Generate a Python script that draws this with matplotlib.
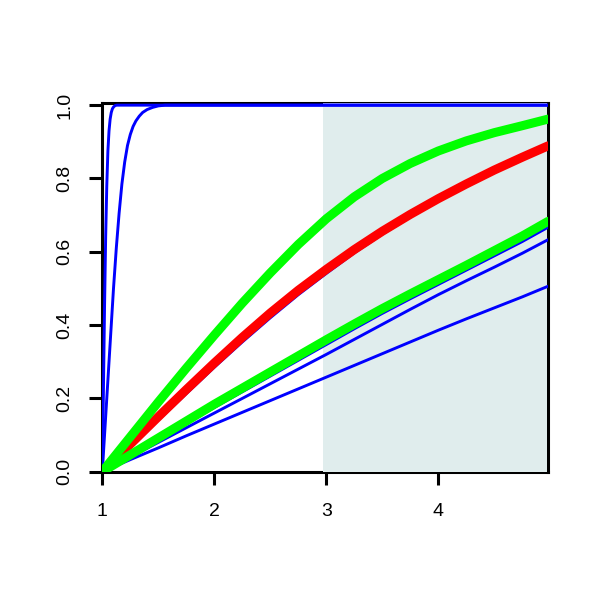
import matplotlib
matplotlib.use("Agg")
import matplotlib.pyplot as plt
from matplotlib.patches import Rectangle

# --- data ---
x_grid = [1.0, 1.25, 1.5, 1.75, 2.0, 2.25, 2.5, 2.75, 3.0, 3.25, 3.5,
          3.75, 4.0, 4.25, 4.5, 4.75, 4.98]

green_hi = [0, .095, .19, .2825, .3725, .46, .5425, .62, .69, .75, .80,
            .841, .875, .9025, .925, .944, .962]
red_mid = [0, .075, .15, .224, .2965, .3665, .433, .495, .552, .606, .656,
           .702, .745, .785, .823, .858, .889]
blue_mid = [0, .07, .141, .213, .285, .354, .42, .483, .541, .597, .648,
            .695, .739, .78, .819, .855, .886]
green_lo = [0, .046, .092, .138, .184, .228, .272, .316, .36, .403, .445,
            .485, .524, .563, .603, .643, .683]
blue_1 = [0, .044, .088, .131, .175, .218, .261, .304, .347, .39, .432,
          .472, .511, .55, .589, .628, .667]
blue_2 = [0, .04, .08, .12, .16, .2, .24, .28, .32, .361, .402,
          .443, .483, .521, .558, .596, .633]
blue_3 = [0, .033, .065, .098, .13, .162, .194, .226, .258, .29, .322,
          .354, .386, .417, .447, .477, .506]

# the two steep blue curves
steep1_x = [1.0, 1.01, 1.02, 1.03, 1.04, 1.05, 1.06, 1.07, 1.08, 1.09, 1.1,
            1.115, 1.13, 4.98]
steep1_y = [0, .22, .45, .64, .78, .875, .93, .962, .98, .99, .995,
            .999, 1.0, 1.0]
steep2_x = [1.0, 1.02, 1.04, 1.06, 1.08, 1.1, 1.125, 1.15, 1.175, 1.2, 1.225,
            1.25, 1.275, 1.3, 1.33, 1.36, 1.4, 1.45, 1.5, 1.56, 4.98]
steep2_y = [0, .1, .2, .3, .4, .5, .61, .705, .785, .845, .89,
            .92, .942, .957, .97, .98, .988, .994, .998, 1.0, 1.0]

shade_from, shade_to = 2.968, 4.968
x_ticks = [1, 2, 3, 4]
y_ticks = [0.0, 0.2, 0.4, 0.6, 0.8, 1.0]

plt.rcParams['font.family'] = ['Liberation Sans', 'DejaVu Sans']

fig = plt.figure(figsize=(6, 6), dpi=100)
ax = fig.add_axes([0.1705, 0.2138, 0.7433, 0.6152])

# shaded band sits over the box line, curves go on top
ax.add_patch(Rectangle((shade_from, 0), shade_to - shade_from, 1.006,
                       facecolor='#E0EDED', edgecolor='none', zorder=2.6))

blue_kw = dict(color='#0000FF', lw=2.1, zorder=3, solid_capstyle='round',
               solid_joinstyle='round')
for ys in (blue_mid, blue_1, blue_2, blue_3):
    ax.plot(x_grid, ys, **blue_kw)
ax.plot(steep1_x, steep1_y, **blue_kw)
ax.plot(steep2_x, steep2_y, **blue_kw)

thick_kw = dict(lw=6.5, solid_capstyle='round', solid_joinstyle='round')
ax.plot(x_grid, red_mid, color='#FF0000', zorder=4, **thick_kw)
ax.plot(x_grid, green_lo, color='#00FF00', zorder=5, **thick_kw)
ax.plot(x_grid, green_hi, color='#00FF00', zorder=5, **thick_kw)

ax.set_xlim(1, 4.982)
ax.set_ylim(0, 1.007)
ax.set_xticks(x_ticks)
ax.set_xticklabels([str(t) for t in x_ticks])
ax.set_yticks(y_ticks)
ax.set_yticklabels([f"{t:.1f}" for t in y_ticks], rotation=90, va='center')

for s in ax.spines.values():
    s.set_linewidth(2.2)
ax.tick_params(axis='both', length=9.5, width=2.2, labelsize=14)
ax.tick_params(axis='x', pad=13)
ax.tick_params(axis='y', pad=11.5)

fig.savefig("out.png", dpi=100)
